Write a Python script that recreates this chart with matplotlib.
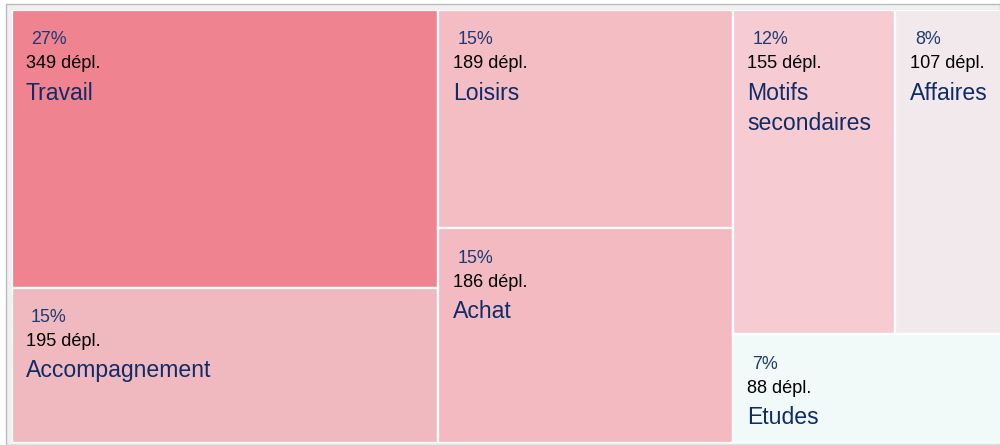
import matplotlib
matplotlib.use("Agg")
import matplotlib.pyplot as plt
from matplotlib.patches import Rectangle

plt.rcParams['font.family'] = ['Liberation Sans', 'DejaVu Sans']

# Trip purposes, number of trips, shares as displayed
motifs = ["Travail", "Accompagnement", "Loisirs", "Achat",
          "Motifs\nsecondaires", "Affaires", "Etudes"]
deplacements = [349, 195, 189, 186, 155, 107, 88]
parts = ["27%", "15%", "15%", "15%", "12%", "8%", "7%"]
couleurs = ["#ef8390", "#f0b8bf", "#f4bcc3", "#f3bac2",
            "#f6cbd2", "#f2e9ec", "#f1f9f9"]

# Nested slice-and-dice structure: ('h' = side by side, 'v' = stacked)
arbre = ("h", [
    ("v", [0, 1]),
    ("v", [2, 3]),
    ("v", [("h", [4, 5]), 6]),
])


def total(node):
    if isinstance(node, int):
        return deplacements[node]
    return sum(total(c) for c in node[1])


def layout(node, x, y, w, h, out):
    if isinstance(node, int):
        out[node] = (x, y, w, h)
        return
    sens, enfants = node
    t = total(node)
    pos = 0.0
    for c in enfants:
        f = total(c) / t
        if sens == "h":
            layout(c, x + pos * w, y, w * f, h, out)
        else:
            layout(c, x, y + pos * h, w, h * f, out)
        pos += f


rects = {}
layout(arbre, 0.0, 0.0, 1.0, 1.0, rects)

W, H = 1000, 445
fig = plt.figure(figsize=(W / 100, H / 100), dpi=100)

# light frame behind the treemap
fig.patches.append(Rectangle((5.5 / W, 0), 1 - 5.5 / W, 1 - 3.5 / H,
                             transform=fig.transFigure, facecolor="#f0f0f0",
                             edgecolor="#bcbcbc", linewidth=1.0, zorder=-5))

# the treemap runs slightly past the right edge of the canvas
ax = fig.add_axes([11.5 / W, 1 - 443 / H, 996 / W, (443 - 10) / H])
ax.set_xlim(0, 1)
ax.set_ylim(1, 0)
ax.axis("off")
ax.add_patch(Rectangle((0, 0), 1, 1, facecolor="white", edgecolor="none", zorder=0))

navy_pct = "#1d3a72"
navy_nom = "#0f2c68"
px = 0.72  # points per pixel at 100 dpi

for i, nom in enumerate(motifs):
    x, y, w, h = rects[i]
    ax.add_patch(Rectangle((x, y), w, h, facecolor=couleurs[i],
                           edgecolor="white", linewidth=1.6, zorder=1))
    ax.annotate(parts[i], xy=(x, y), xytext=(19.5 * px, -34.5 * px),
                textcoords="offset points", ha="left", va="baseline",
                fontsize=12.9, color=navy_pct, zorder=2)
    ax.annotate(f"{deplacements[i]} dépl.", xy=(x, y),
                xytext=(14.5 * px, -58.5 * px), textcoords="offset points",
                ha="left", va="baseline", fontsize=13.1, color="black", zorder=2)
    for k, ligne in enumerate(nom.split("\n")):
        ax.annotate(ligne, xy=(x, y), xytext=(14.5 * px, -(89.5 + 30 * k) * px),
                    textcoords="offset points", ha="left", va="baseline",
                    fontsize=16.6, color=navy_nom, zorder=2)

fig.savefig("out.png", dpi=100)
